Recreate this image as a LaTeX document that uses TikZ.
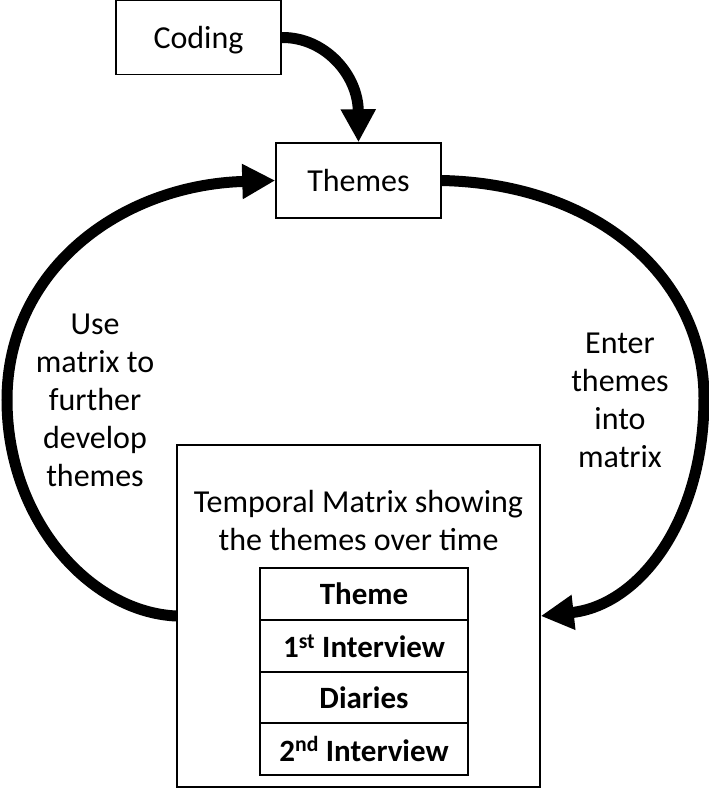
\documentclass[tikz,border=0pt]{standalone}
\usepackage{fontspec}
\setmainfont{Carlito}
\usetikzlibrary{arrows.meta}
\begin{document}
\begin{tikzpicture}[x=1pt,y=-1pt,
  box/.style={draw, line width=1.5pt, inner sep=0pt},
  txt/.style={font=\fontsize{32}{38}\selectfont, align=center},
  row/.style={draw, line width=1.5pt, minimum width=208pt, minimum height=52pt, inner sep=0pt, font=\fontsize{31}{38}\selectfont\bfseries},
  flow/.style={line width=11pt, -{Triangle[length=33pt,width=33pt]}}]
\path[use as bounding box] (0,0) rectangle (709,790);
\node[box, minimum width=165pt, minimum height=74pt, txt, text depth=0pt, text height=22pt] (coding) at (198.5,37.5) {Coding};
\node[box, minimum width=165pt, minimum height=75pt, txt, text depth=0pt, text height=22pt] (themes) at (358.5,180.5) {Themes};
\node[box, minimum width=363pt, minimum height=342pt] (matrix) at (358.5,616) {};
\node[txt] (title) at (358.5,521) {Temporal Matrix showing\\the themes over time};
\node[row] (r1) at (364,594) {Theme};
\node[row] (r2) at (364,646) {1\textsuperscript{st} Interview};
\node[row] (r3) at (364,697.5) {Diaries};
\node[row] (r4) at (364,749) {2\textsuperscript{nd} Interview};
\node[txt] (uselbl) at (95,400) {Use\\matrix to\\further\\develop\\themes};
\node[txt] (enterlbl) at (620,400) {Enter\\themes\\into\\matrix};
\draw[flow] (coding.east) .. controls (325,37) and (358,75) .. (themes.north);
\draw[flow] (matrix.west) .. controls (90,612) and (7,520) .. (7,400)
  .. controls (7,270) and (120,185) .. (themes.west);
\draw[flow] (themes.east) .. controls (600,184) and (704,280) .. (704,398)
  .. controls (704,520) and (640,605) .. (matrix.east);
\end{tikzpicture}
\end{document}
